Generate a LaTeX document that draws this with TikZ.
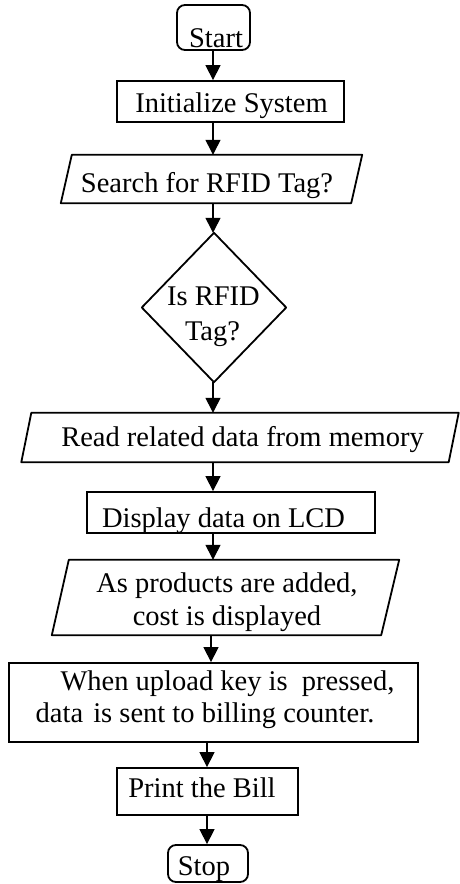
\documentclass[tikz,border=0pt]{standalone}
\usepackage{fontspec}
\setmainfont{Liberation Serif}
\usetikzlibrary{arrows.meta}
\begin{document}
\begin{tikzpicture}[x=1pt,y=-1pt,
  shapebox/.style={draw, line width=1.8pt, inner sep=0pt, rectangle},
  frame/.style={inner sep=0pt, rectangle},
  roundbox/.style={draw, line width=1.8pt, inner sep=0pt, rectangle, rounded corners=8pt},
  outline/.style={draw, line width=1.8pt, line join=round},
  txt/.style={anchor=base, inner sep=0pt, font=\fontsize{28.5}{33}\selectfont},
  arr/.style={line width=1.3pt, -{Triangle[length=15pt,width=15pt]}}]
\useasboundingbox (0,0) rectangle (460,884);
\coordinate (ax) at (213,0);
\coordinate (cx) at (211,0);
\coordinate (bx) at (207,0);
% shapes
\node[roundbox, minimum width=73pt, minimum height=45pt] (start) at (213.5,27.5) {};
\node[shapebox, minimum width=227pt, minimum height=41pt] (init) at (230.5,101.5) {};
\node[frame, minimum width=301pt, minimum height=48pt] (search) at (211.5,179) {};
\draw[outline] ([xshift=11pt]search.north west) -- (search.north east) -- ([xshift=-11pt]search.south east) -- (search.south west) -- cycle;
\node[frame, minimum width=144pt, minimum height=149pt] (dia) at (214,307.5) {};
\draw[outline] (dia.north) -- (dia.east) -- (dia.south) -- (dia.west) -- cycle;
\node[frame, minimum width=437pt, minimum height=49pt] (read) at (240,437.5) {};
\draw[outline] ([xshift=10pt]read.north west) -- (read.north east) -- ([xshift=-10pt]read.south east) -- (read.south west) -- cycle;
\node[shapebox, minimum width=288pt, minimum height=41pt] (disp) at (231,512.5) {};
\node[frame, minimum width=347pt, minimum height=75pt] (add) at (225.5,597.5) {};
\draw[outline] ([xshift=17pt]add.north west) -- (add.north east) -- ([xshift=-18pt]add.south east) -- (add.south west) -- cycle;
\node[shapebox, minimum width=409pt, minimum height=79pt] (upl) at (213.5,702.5) {};
\node[shapebox, minimum width=181pt, minimum height=47pt] (print) at (207.5,791.5) {};
\node[roundbox, minimum width=80pt, minimum height=37pt] (stop) at (208,863.5) {};
% texts
\node[txt] (tstart) at (216,47) {Start};
\node[txt] (tinit) at (231.5,112) {Initialize System};
\node[txt] (tsearch) at (207,192) {Search for RFID Tag?};
\node[txt] (tdia1) at (213.5,305) {Is RFID};
\node[txt] (tdia2) at (212.5,340) {Tag?};
\node[txt] (tread) at (242.5,446) {Read related data from memory};
\node[txt] (tdisp) at (223.5,527) {Display data on LCD};
\node[txt] (tadd1) at (227,592) {As products are added,};
\node[txt] (tadd2) at (227,625) {cost is displayed};
\node[txt] (tupl1) at (227.5,690) {When upload key is\ \ pressed,};
\node[txt] (tupl2) at (205,722) {data\hspace{3pt} is sent to billing counter.};
\node[txt] (tprint) at (202,797) {Print the Bill};
\node[txt] (tstop) at (204,875) {Stop};
% connectors
\draw[arr] (start.south -| ax) -- (init.north -| ax);
\draw[arr] (init.south -| ax) -- (search.north -| ax);
\draw[arr] (search.south -| ax) -- (dia.north -| ax);
\draw[arr] (dia.south -| ax) -- (read.north -| ax);
\draw[arr] (read.south -| ax) -- (disp.north -| ax);
\draw[arr] (disp.south -| ax) -- (add.north -| ax);
\draw[arr] (add.south -| cx) -- (upl.north -| cx);
\draw[arr] (upl.south -| bx) -- (print.north -| bx);
\draw[arr] (print.south -| bx) -- (stop.north -| bx);
\end{tikzpicture}
\end{document}
